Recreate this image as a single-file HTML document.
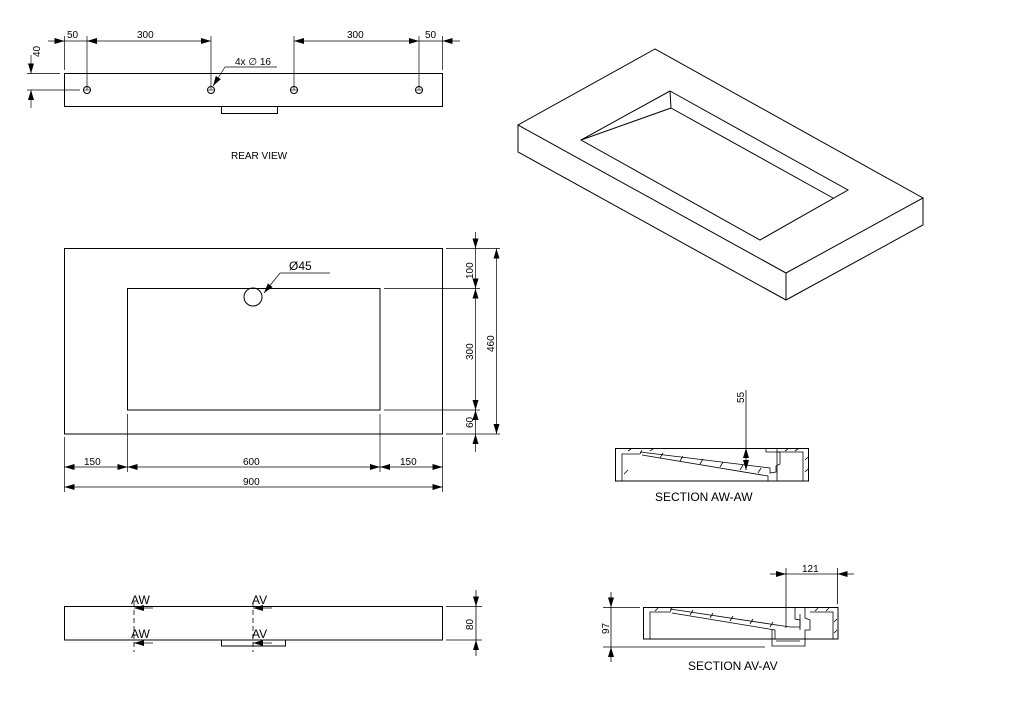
<!DOCTYPE html>
<html><head><meta charset="utf-8"><style>
html,body{margin:0;padding:0;background:#fff;}
svg{display:block;}
text{font-family:"Liberation Sans","DejaVu Sans",sans-serif;fill:#000;}
</style></head><body>
<svg width="1024" height="703" viewBox="0 0 1024 703" xmlns="http://www.w3.org/2000/svg">
<defs>
<marker id="a" viewBox="0 0 10 6" refX="10" refY="3" markerWidth="10" markerHeight="6" orient="auto-start-reverse" markerUnits="userSpaceOnUse"><path d="M0,0 L10,3 L0,6z" fill="#000"/></marker>
</defs>
<g stroke="#000" stroke-width="1" fill="none">
<!-- REAR VIEW -->
<rect x="64.5" y="73.5" width="378" height="33"/>
<rect x="221.5" y="106.5" width="56" height="7"/>
<g>
<circle cx="87" cy="90" r="3.5"/><circle cx="211" cy="90" r="3.5"/><circle cx="294" cy="90" r="3.5"/><circle cx="419" cy="90" r="3.5"/>
<line x1="83" y1="90" x2="91" y2="90" stroke-width=".6"/><line x1="207" y1="90" x2="215" y2="90" stroke-width=".6"/><line x1="290" y1="90" x2="298" y2="90" stroke-width=".6"/><line x1="415" y1="90" x2="423" y2="90" stroke-width=".6"/>
</g>
<g stroke-width=".7">
<line x1="64.5" y1="36" x2="64.5" y2="70"/><line x1="87" y1="36" x2="87" y2="90"/><line x1="211" y1="36" x2="211" y2="90"/>
<line x1="294" y1="36" x2="294" y2="90"/><line x1="419" y1="36" x2="419" y2="90"/><line x1="442.5" y1="36" x2="442.5" y2="70"/>
<line x1="48" y1="41" x2="64.5" y2="41" marker-end="url(#a)"/>
<line x1="87" y1="41" x2="211" y2="41" marker-start="url(#a)" marker-end="url(#a)"/>
<line x1="294" y1="41" x2="419" y2="41" marker-start="url(#a)" marker-end="url(#a)"/>
<line x1="442.5" y1="41" x2="460" y2="41" marker-start="url(#a)"/>
<line x1="64.5" y1="41" x2="87" y2="41"/><line x1="419" y1="41" x2="442.5" y2="41"/>
<line x1="27" y1="73.5" x2="60" y2="73.5"/><line x1="27" y1="90" x2="80" y2="90"/>
<line x1="31" y1="55" x2="31" y2="73.5" marker-end="url(#a)"/><line x1="31" y1="108" x2="31" y2="90" marker-end="url(#a)"/>
<line x1="277" y1="67" x2="225" y2="67"/><line x1="225" y1="67" x2="213" y2="86" marker-end="url(#a)"/>
</g>
<!-- PLAN VIEW -->
<rect x="64.5" y="248.5" width="378" height="185.5"/>
<rect x="127.5" y="288.5" width="252.5" height="121.5"/>
<circle cx="253" cy="297" r="9"/>
<g stroke-width=".7">
<line x1="330" y1="273" x2="280" y2="273"/><line x1="280" y1="273" x2="264" y2="293" marker-end="url(#a)"/>
<line x1="446" y1="248.5" x2="500" y2="248.5"/><line x1="384" y1="288.5" x2="480" y2="288.5"/><line x1="384" y1="410" x2="480" y2="410"/><line x1="446" y1="434" x2="500" y2="434"/>
<line x1="475.5" y1="232" x2="475.5" y2="248.5" marker-end="url(#a)"/>
<line x1="475.5" y1="248.5" x2="475.5" y2="288.5" marker-end="url(#a)"/>
<line x1="475.5" y1="288.5" x2="475.5" y2="410" marker-start="url(#a)" marker-end="url(#a)"/>
<line x1="475.5" y1="434" x2="475.5" y2="410" marker-end="url(#a)"/>
<line x1="475.5" y1="452" x2="475.5" y2="434" marker-end="url(#a)"/>
<line x1="496.5" y1="248.5" x2="496.5" y2="434" marker-start="url(#a)" marker-end="url(#a)"/>
<line x1="64.5" y1="437" x2="64.5" y2="492"/><line x1="127.5" y1="414" x2="127.5" y2="472"/><line x1="380" y1="414" x2="380" y2="472"/><line x1="442.5" y1="437" x2="442.5" y2="492"/>
<line x1="64.5" y1="467" x2="127.5" y2="467" marker-start="url(#a)" marker-end="url(#a)"/>
<line x1="127.5" y1="467" x2="380" y2="467" marker-start="url(#a)" marker-end="url(#a)"/>
<line x1="380" y1="467" x2="442.5" y2="467" marker-start="url(#a)" marker-end="url(#a)"/>
<line x1="64.5" y1="487" x2="442.5" y2="487" marker-start="url(#a)" marker-end="url(#a)"/>
</g>
<!-- FRONT VIEW -->
<rect x="64.5" y="606.5" width="378" height="33.5"/>
<rect x="221.5" y="640" width="64" height="6"/>
<g stroke-width=".8">
<line x1="134" y1="602" x2="134" y2="652" stroke-dasharray="5,3"/>
<line x1="253" y1="602" x2="253" y2="652" stroke-dasharray="5,3"/>
<line x1="153" y1="608" x2="134" y2="608" marker-end="url(#a)"/>
<line x1="153" y1="643" x2="134" y2="643" marker-end="url(#a)"/>
<line x1="272" y1="608" x2="253" y2="608" marker-end="url(#a)"/>
<line x1="272" y1="643" x2="253" y2="643" marker-end="url(#a)"/>
<line x1="446" y1="606.5" x2="482" y2="606.5"/><line x1="446" y1="640" x2="482" y2="640"/>
<line x1="476" y1="590" x2="476" y2="606.5" marker-end="url(#a)"/>
<line x1="476" y1="656" x2="476" y2="640" marker-end="url(#a)"/>
<line x1="476" y1="606.5" x2="476" y2="640"/>
</g>
<!-- ISO -->
<path d="M655,49 L518,125 L786,273 L923,198 Z"/>
<path d="M518,125 L518,152 L786,300 L923,225 L923,198 M786,273 L786,300"/>
<path d="M670,91 L581,140 L760,240 L848,190 L670,91 M670,91 L671,108 L581,140 M671,108 L833,198"/>
<!-- SECTION AW -->
<rect x="615.5" y="448.5" width="193" height="32.5"/>
<g stroke-width=".8">
<path d="M622,481 L622,454 L640,454 L642,450"/>
<path d="M640,452 L770,468 L770,473 L776,472 L776,466 L780,464 L780,452 L766,452 L766,448"/>
<path d="M642,455 L768,476 L768,481"/>
<path d="M777,448 L777,481 M777,452 L803,452 L803,481"/>
<path d="M628,451 L631,449 M650,451 L653,449 M628,470 L624,474 M805,460 L808,457 M805,472 L808,469 M785,451 L788,449 M795,451 L798,449"/>
<path d="M660,458 L663,453 M680,461 L683,456 M700,464 L703,459 M720,467 L723,462 M740,470 L743,465 M758,473 L761,468"/>
<line x1="746" y1="390" x2="746" y2="470"/>
<line x1="746" y1="456" x2="746" y2="448" marker-end="url(#a)"/>
<line x1="746" y1="462" x2="746" y2="470" marker-end="url(#a)"/>
</g>
<!-- SECTION AV -->
<rect x="643.5" y="607.5" width="194.5" height="31.5"/>
<g stroke-width=".8">
<path d="M650,639 L650,612 L670,612 L672,608"/>
<path d="M670,609 L790,627 L800,627 L800,620 L795,619 L795,608"/>
<path d="M672,613 L775,630 L775,639"/>
<path d="M772,630 L772,646 L805,646 L805,630 L810,630 L810,620 L805,618 L805,607"/>
<path d="M800,614 L800,630 M810,612 L833,612 L833,639 M776,641 L800,641"/>
<path d="M690,615 L693,610 M710,618 L713,613 M730,621 L733,616 M750,624 L753,619 M770,627 L773,622"/>
<path d="M815,611 L818,608 M826,611 L829,608 M834,622 L837,619 M834,633 L837,630 M655,611 L658,608"/>
<line x1="603" y1="607.5" x2="640" y2="607.5"/><line x1="603" y1="647" x2="765" y2="647"/>
<line x1="611" y1="592" x2="611" y2="607.5" marker-end="url(#a)"/>
<line x1="611" y1="662" x2="611" y2="647" marker-end="url(#a)"/>
<line x1="611" y1="607.5" x2="611" y2="647"/>
<line x1="786" y1="568" x2="786" y2="628"/><line x1="837.5" y1="568" x2="837.5" y2="604"/>
<line x1="770" y1="574" x2="786" y2="574" marker-end="url(#a)"/>
<line x1="854" y1="574" x2="837.5" y2="574" marker-end="url(#a)"/>
<line x1="786" y1="574" x2="837.5" y2="574"/>
</g>
</g>
<!-- TEXT -->
<g font-size="10">
<text x="67" y="38">50</text><text x="137" y="38">300</text><text x="347" y="38">300</text><text x="425" y="38">50</text>
<text x="235" y="65">4x ∅ 16</text>
<text transform="translate(40,57) rotate(-90)" text-anchor="start">40</text>
<text x="231" y="159" font-size="10">REAR VIEW</text>
<text x="289" y="270" font-size="12">Ø45</text>
<text x="84" y="465">150</text><text x="243" y="465">600</text><text x="400" y="465">150</text><text x="243" y="485">900</text>
<text transform="translate(473,279) rotate(-90)">100</text>
<text transform="translate(473,360) rotate(-90)">300</text>
<text transform="translate(473,428) rotate(-90)">60</text>
<text transform="translate(494,352) rotate(-90)">460</text>
<text transform="translate(473,630) rotate(-90)">80</text>
<text transform="translate(744,403) rotate(-90)">55</text>
<text transform="translate(609,634) rotate(-90)">97</text>
<text x="802" y="572">121</text>
</g>
<g font-size="12">
<text x="131" y="604">AW</text><text x="252" y="604">AV</text>
<text x="131" y="638">AW</text><text x="252" y="638">AV</text>
<text x="655" y="501">SECTION AW-AW</text>
<text x="688" y="670">SECTION AV-AV</text>
</g>
</svg>
</body></html>
